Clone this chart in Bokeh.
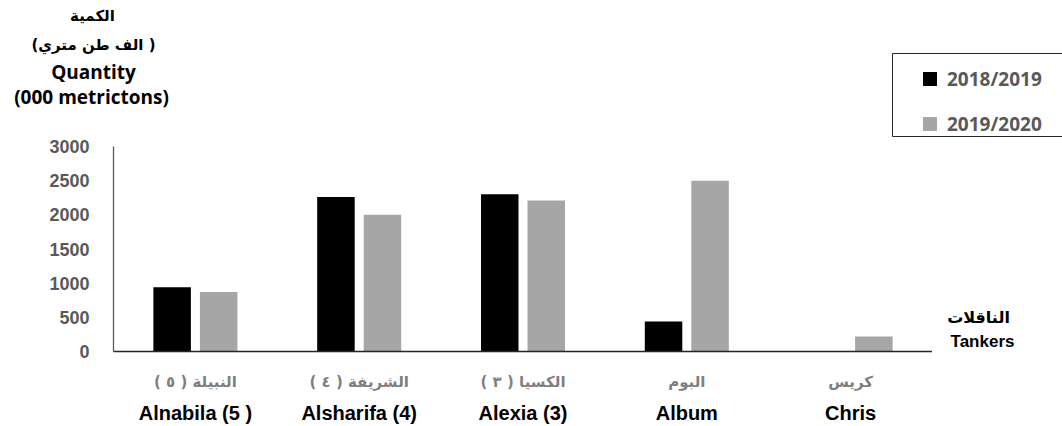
import math
from bokeh.plotting import figure
from bokeh.layouts import column, row
from bokeh.models import (FactorRange, Range1d, CategoricalAxis, Legend, LegendItem,
                          Label, SingleIntervalTicker, ColumnDataSource, BoxAnnotation)
from bokeh.transform import dodge
from bokeh.embed import file_html
from bokeh.resources import INLINE

RLM = "\u200f"
NAN = math.nan

# ---- data ----
tankers = ["Alnabila (5 )", "Alsharifa (4)", "Alexia (3)", "Album", "Chris"]
tankers_ar = ["النبيلة ( ٥ )", "الشريفة ( ٤ )", "الكسيا ( ٣ )", "البوم", "كريس"]
years = ["2018/2019", "2019/2020"]
q_2018_2019 = [940, 2260, 2300, 440, 0]
q_2019_2020 = [870, 2000, 2210, 2500, 220]
y_ticks_step = 500
y_max = 3000
x_title_ar = "الناقلات"
x_title_en = "Tankers"

BLACK = "#000000"
GREY = "#A6A6A6"
TXT_GREY = "#595959"

W, H = 1062, 426
HA = 137          # height of the top strip (axis title + legend)
HB = H - HA
FRAME_L, FRAME_R, FRAME_T, FRAME_B = 113, 932, 146, 352


def lab(fig, text, x, y, size, font, color=BLACK, baseline="middle"):
    fig.add_layout(Label(x=x, y=y, x_units="screen", y_units="screen", text=text,
                         text_align="center", text_baseline=baseline,
                         text_font=font, text_font_style="bold",
                         text_font_size=size, text_color=color))


def bare(width, height):
    f = figure(width=width, height=height, x_range=Range1d(0, 1), y_range=Range1d(0, 1),
               output_backend="svg", toolbar_location=None,
               x_axis_location=None, y_axis_location=None,
               min_border_left=0, min_border_right=0, min_border_top=0, min_border_bottom=0)
    f.outline_line_color = None
    f.xgrid.visible = False
    f.ygrid.visible = False
    return f


# ---------------- top strip: y-axis title + legend ----------------
top = bare(W, HA)
lab(top, RLM + "الكمية" + RLM, 92, HA - 15, "15px", "DejaVu Sans")
lab(top, RLM + "( الف طن متري)" + RLM, 93, HA - 44, "15px", "DejaVu Sans")
lab(top, "Quantity", 93, HA - 71, "19px", "Open Sans")
lab(top, "(000 metrictons)", 91, HA - 96, "19px", "Open Sans")

# legend proxies (NaN point: nothing drawn in the plot, only in the legend)
d1 = top.scatter(x=[NAN], y=[NAN], marker="square", size=0, fill_color=BLACK, line_color=None)
d2 = top.scatter(x=[NAN], y=[NAN], marker="square", size=0, fill_color=GREY, line_color=None)
legend = Legend(items=[LegendItem(label=years[0], renderers=[d1]),
                       LegendItem(label=years[1], renderers=[d2])],
                location=(912, HA - 141), orientation="vertical",
                glyph_width=35, glyph_height=35, label_height=35,
                label_standoff=-10, spacing=10, padding=0, margin=0,
                border_line_color=None, background_fill_alpha=0,
                inactive_fill_alpha=0,
                label_text_font="Open Sans", label_text_font_style="bold",
                label_text_font_size="19px", label_text_color=TXT_GREY)
top.add_layout(legend)
top.add_layout(BoxAnnotation(left=892, right=1200, top=HA - 53, bottom=1,
                             left_units="screen", right_units="screen",
                             top_units="screen", bottom_units="screen",
                             fill_alpha=0, fill_color=None,
                             line_color="#262626", line_width=1, line_alpha=1))

# ---------------- main chart ----------------
src = ColumnDataSource(dict(tanker=tankers, a=q_2018_2019, b=q_2019_2020))
ar_factors = [RLM + t + RLM for t in tankers_ar]

p = figure(width=FRAME_R, height=HB,
           x_range=FactorRange(*tankers, range_padding=0),
           y_range=Range1d(0, y_max),
           output_backend="svg", toolbar_location=None,
           x_axis_location=None,
           min_border_left=FRAME_L, min_border_right=0,
           min_border_top=FRAME_T - HA, min_border_bottom=H - FRAME_B)
p.extra_x_ranges = {"ar": FactorRange(*ar_factors, range_padding=0)}
p.outline_line_color = None
p.xgrid.grid_line_color = None
p.ygrid.grid_line_color = None

p.vbar(x=dodge("tanker", -0.142, range=p.x_range), top="a", width=0.229,
       source=src, fill_color=BLACK, line_color=None)
p.vbar(x=dodge("tanker", 0.142, range=p.x_range), top="b", width=0.229,
       source=src, fill_color=GREY, line_color=None)

ya = p.yaxis[0]
ya.ticker = SingleIntervalTicker(interval=y_ticks_step)
ya.axis_line_color = TXT_GREY
ya.axis_line_width = 1.3
ya.major_tick_line_color = None
ya.minor_tick_line_color = None
ya.major_tick_out = 0
ya.major_tick_in = 0
ya.major_label_standoff = 20
ya.major_label_text_font = "Liberation Sans"
ya.major_label_text_font_style = "bold"
ya.major_label_text_font_size = "18px"
ya.major_label_text_color = TXT_GREY

xa = CategoricalAxis(x_range_name="ar")
xa.axis_line_color = "#262626"
xa.axis_line_width = 1.3
xa.major_tick_line_color = None
xa.minor_tick_line_color = None
xa.major_tick_out = 0
xa.major_tick_in = 0
xa.major_label_standoff = 21
xa.major_label_text_font = "DejaVu Sans"
xa.major_label_text_font_style = "bold"
xa.major_label_text_font_size = "15px"
xa.major_label_text_color = "#7F7F7F"
p.add_layout(xa, "below")

xe = CategoricalAxis()
xe.axis_line_color = None
xe.major_tick_line_color = None
xe.minor_tick_line_color = None
xe.major_tick_out = 0
xe.major_tick_in = 0
xe.major_label_standoff = 8
xe.major_label_text_font = "Liberation Sans"
xe.major_label_text_font_style = "bold"
xe.major_label_text_font_size = "20px"
xe.major_label_text_color = BLACK
p.add_layout(xe, "below")

# ---------------- right strip: x-axis title ----------------
# (its frame is aligned with the main frame: bottom edge = x-axis line)
right = bare(W - FRAME_R, HB)
lab(right, RLM + x_title_ar + RLM, 978 - FRAME_R, FRAME_B - 318, "16px", "DejaVu Sans")
lab(right, x_title_en, 982 - FRAME_R, 0.5, "17px", "Liberation Sans", baseline="bottom")

layout = column(top, row(p, right, spacing=0), spacing=0)
open("out.html", "w").write(file_html(layout, INLINE))
